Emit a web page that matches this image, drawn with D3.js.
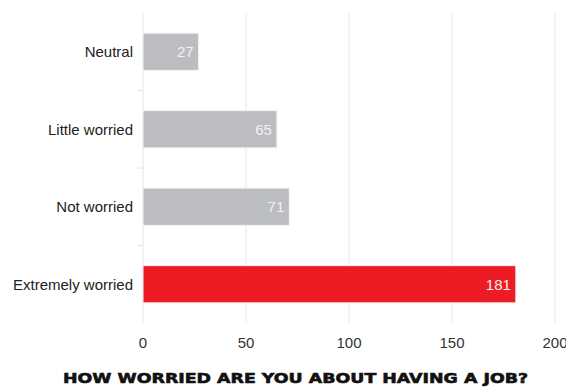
<!DOCTYPE html>
<html>
<head>
<meta charset="utf-8">
<script src="https://cdn.jsdelivr.net/npm/d3@7"></script>
<style>
  body { margin: 0; background: #fff; }
  svg { display: block; }
</style>
</head>
<body>
<script>
var categories = ["Neutral", "Little worried", "Not worried", "Extremely worried"];
var counts = [27, 65, 71, 181];
var barColors = ["#bcbdc0", "#bcbdc0", "#bcbdc0", "#ed1c24"];
var xTicks = [0, 50, 100, 150, 200];
var title = "HOW WORRIED ARE YOU ABOUT HAVING A JOB?";

var width = 566, height = 387;
var margin = { top: 13, right: 11, bottom: 64, left: 143 };

var svg = d3.select("body").append("svg")
    .attr("width", width)
    .attr("height", height);

var data = categories.map(function (c, i) {
    return { name: c, value: counts[i], color: barColors[i] };
});

var x = d3.scaleLinear()
    .domain([0, 200])
    .range([margin.left, width - margin.right]);

var y = d3.scaleBand()
    .domain(categories)
    .range([margin.top, height - margin.bottom])
    .paddingInner(0.52)
    .paddingOuter(0.26);

// grid lines
svg.append("g")
    .selectAll("line")
    .data(xTicks.slice(1))
    .enter().append("line")
    .attr("x1", function (d) { return x(d); })
    .attr("x2", function (d) { return x(d); })
    .attr("y1", margin.top)
    .attr("y2", height - margin.bottom)
    .attr("stroke", "#e6e6e6")
    .attr("stroke-width", 1);

// left axis line + category ticks
svg.append("line")
    .attr("x1", x(0)).attr("x2", x(0))
    .attr("y1", margin.top).attr("y2", height - margin.bottom)
    .attr("stroke", "#e6e6e6");

var bandEdges = categories.slice(1).map(function (c) {
    return y(c) - y.step() * y.paddingInner() / 2;
});
svg.append("g")
    .selectAll("line")
    .data(bandEdges)
    .enter().append("line")
    .attr("x1", x(0) - 6).attr("x2", x(0))
    .attr("y1", function (d) { return d; })
    .attr("y2", function (d) { return d; })
    .attr("stroke", "#e6e6e6");

// bars
svg.append("g")
    .selectAll("rect")
    .data(data)
    .enter().append("rect")
    .attr("x", x(0))
    .attr("y", function (d) { return y(d.name); })
    .attr("width", function (d) { return x(d.value) - x(0); })
    .attr("height", y.bandwidth())
    .attr("fill", function (d) { return d.color; })
    .attr("stroke", "#f4f4f4")
    .attr("stroke-width", 1);

// value labels
svg.append("g")
    .selectAll("text")
    .data(data)
    .enter().append("text")
    .attr("x", function (d) { return x(d.value) - 5; })
    .attr("y", function (d) { return y(d.name) + y.bandwidth() / 2; })
    .attr("dy", "0.35em")
    .attr("text-anchor", "end")
    .attr("font-family", "Liberation Sans, Arial, sans-serif")
    .attr("font-size", "15px")
    .attr("fill", "#f2f2f2")
    .text(function (d) { return d.value; });

// category labels
svg.append("g")
    .selectAll("text")
    .data(data)
    .enter().append("text")
    .attr("x", x(0) - 10)
    .attr("y", function (d) { return y(d.name) + y.bandwidth() / 2; })
    .attr("dy", "0.35em")
    .attr("text-anchor", "end")
    .attr("font-family", "Liberation Sans, Arial, sans-serif")
    .attr("font-size", "15px")
    .attr("fill", "#222")
    .text(function (d) { return d.name; });

// x tick labels (200 runs off the right edge, as in the original)
svg.append("g")
    .selectAll("text")
    .data(xTicks)
    .enter().append("text")
    .attr("x", function (d) { return x(d); })
    .attr("y", height - margin.bottom + 20)
    .attr("dy", "0.35em")
    .attr("text-anchor", "middle")
    .attr("font-family", "Liberation Sans, Arial, sans-serif")
    .attr("font-size", "15px")
    .attr("fill", "#333")
    .text(function (d) { return d; });

// title
svg.append("text")
    .attr("x", 63)
    .attr("y", 383)
    .attr("textLength", 465)
    .attr("lengthAdjust", "spacingAndGlyphs")
    .attr("font-family", "DejaVu Sans, sans-serif")
    .attr("font-weight", "bold")
    .attr("font-size", "14px")
    .attr("fill", "#111")
    .attr("stroke", "#111")
    .attr("stroke-width", 0.6)
    .text(title);
</script>
</body>
</html>
